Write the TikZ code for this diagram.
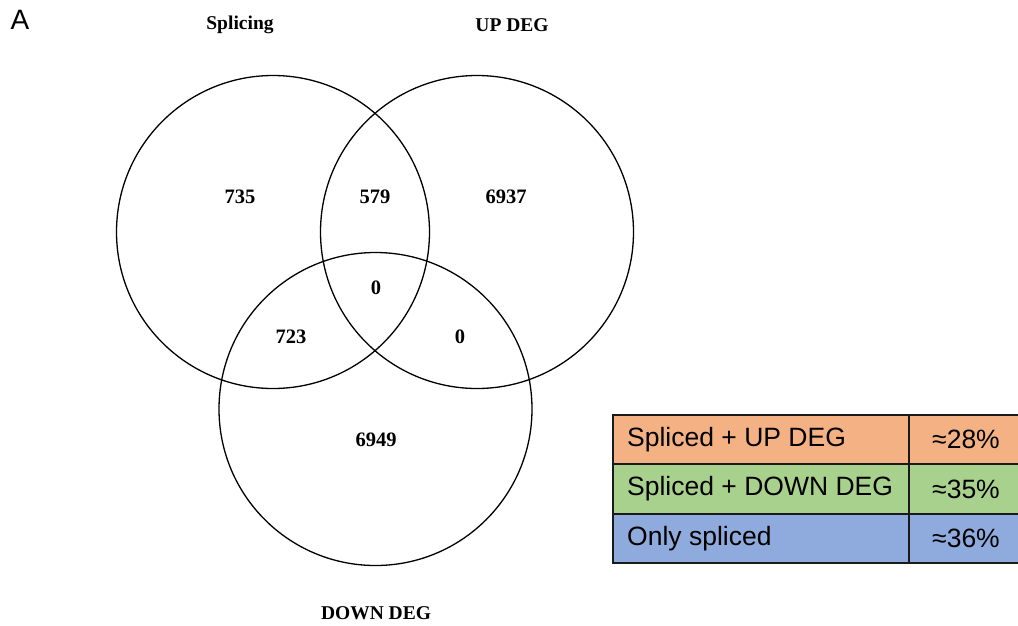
\documentclass[tikz,border=0pt]{standalone}
\usepackage{fontspec}
\setmainfont{Liberation Serif}
\newfontfamily\arialfont{Liberation Sans}
\definecolor{cellorange}{HTML}{F4B183}
\definecolor{cellgreen}{HTML}{A9D18E}
\definecolor{cellblue}{HTML}{8FAADC}
\definecolor{gridline}{HTML}{1A1A1A}
\tikzset{
  venncircle/.style={draw=black, line width=1.3pt, circle, minimum size=313pt, inner sep=0pt},
  vennlabel/.style={font=\fontsize{19.5}{19.5}\selectfont\bfseries, inner sep=0pt},
  vennnum/.style={font=\fontsize{20.5}{20.5}\selectfont\bfseries, inner sep=0pt},
  celltext/.style={font=\arialfont\fontsize{26.5}{26.5}\selectfont, inner sep=0pt},
  cellbox/.style={draw=gridline, line width=1.3pt},
}
\begin{document}
\begin{tikzpicture}[x=1pt, y=-1pt]
\useasboundingbox (0,0) rectangle (1018,625);
\fill[white] (0,0) rectangle (1018,625);
\clip (0,0) rectangle (1018,625);

% panel letter
\node[font=\arialfont\fontsize{28}{28}\selectfont, inner sep=0pt] (panelA) at (20,20) {A};

% circles
\node[venncircle] (splice) at (273,232) {};
\node[venncircle] (up) at (477,232) {};
\node[venncircle] (down) at (375.5,409) {};

% set labels
\node[vennlabel] (lsplice) at (240,25) {Splicing};
\node[vennlabel] (lup) at (512,25) {UP DEG};
\node[vennlabel] (ldown) at (376,613) {DOWN DEG};

% region counts
\node[vennnum] (n735) at (240,197) {735};
\node[vennnum] (n579) at (375,197) {579};
\node[vennnum] (n6937) at (506,197) {6937};
\node[vennnum] (n0c) at (376,288) {0};
\node[vennnum] (n723) at (291,337) {723};
\node[vennnum] (n0r) at (460,337) {0};
\node[vennnum] (n6949) at (376,440) {6949};

% table
\fill[cellorange] (613,415) rectangle (1030,464);
\fill[cellgreen] (613,464) rectangle (1030,514);
\fill[cellblue] (613,514) rectangle (1030,563);
\draw[cellbox] (1030,415) -- (613,415) -- (613,563) -- (1030,563);
\draw[cellbox] (613,464) -- (1030,464);
\draw[cellbox] (613,514) -- (1030,514);
\draw[cellbox] (909,415) -- (909,563);

\node[celltext, anchor=west] (r1a) at (627,439.5) {Spliced + UP DEG};
\node[celltext, anchor=west] (r2a) at (627,489) {Spliced + DOWN DEG};
\node[celltext, anchor=west] (r3a) at (627,538.5) {Only spliced};
\node[celltext] (r1b) at (966,439.5) {≈28\%};
\node[celltext] (r2b) at (966,489) {≈35\%};
\node[celltext] (r3b) at (966,538.5) {≈36\%};
\end{tikzpicture}
\end{document}
